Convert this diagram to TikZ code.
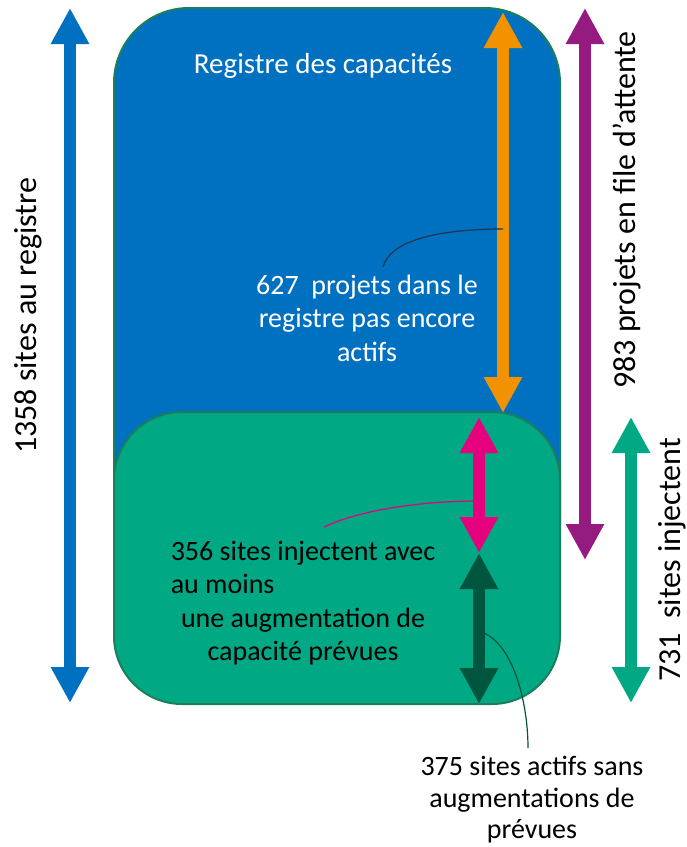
\documentclass[tikz,border=0pt]{standalone}
\usepackage{fontspec}
\usepackage{calc}
\setmainfont{Carlito}
\usetikzlibrary{arrows.meta}
\definecolor{cblue}{HTML}{0070C0}
\definecolor{cgreen}{HTML}{00A884}
\definecolor{cborder}{HTML}{1A7F5A}
\definecolor{corange}{HTML}{F39200}
\definecolor{cpurple}{HTML}{951B81}
\definecolor{cpink}{HTML}{E5007E}
\definecolor{cdark}{HTML}{00553F}
\definecolor{cnavy}{HTML}{1F3550}
\tikzset{
  box/.style={draw=cborder, line width=2pt},
  bigarrow/.style={line width=12pt, {Triangle[width=36pt,length=36pt]}-{Triangle[width=36pt,length=36pt]}},
  lbl/.style={inner sep=0pt, align=center, font=\fontsize{28}{33.5}\selectfont},
  vlbl/.style={inner sep=0pt, rotate=90, font=\fontsize{32}{38}\selectfont},
  thin/.style={line width=1.2pt},
}
\begin{document}
\begin{tikzpicture}[x=1pt,y=-1pt]
\useasboundingbox (0,0) rectangle (687,847);
% boxes
\filldraw[box, fill=cblue, rounded corners=75pt] (114,8) rectangle (560,600);
\filldraw[box, fill=cgreen, rounded corners=68pt] (114,412) rectangle (560,704);
% arrows
\coordinate (b1) at (70,8);   \coordinate (b2) at (70,703);
\coordinate (o1) at (503,12); \coordinate (o2) at (503,413);
\coordinate (p1) at (585,8);  \coordinate (p2) at (585,560);
\coordinate (t1) at (631,417);\coordinate (t2) at (631,703);
\coordinate (k1) at (479,417);\coordinate (k2) at (479,553);
\coordinate (d1) at (479,553);\coordinate (d2) at (479,704);
\draw[bigarrow, cblue] (b1) -- (b2);
\draw[bigarrow, corange] (o1) -- (o2);
\draw[bigarrow, cpurple] (p1) -- (p2);
\draw[bigarrow, cgreen] (t1) -- (t2);
\draw[bigarrow, cpink] (k1) -- (k2);
\draw[bigarrow, cdark] (d1) -- (d2);
% texts
\node[lbl, white, font=\fontsize{29}{34}\selectfont] (title) at (323,66) {Registre des capacités};
\node[lbl, white] (t627) at (367,318) {627\ \ projets dans le\\registre pas encore\\actifs};
\node[lbl, black] (t356) at (303,603) {356 sites injectent avec\\\makebox[\widthof{356 sites injectent avec}][l]{au moins}\\une augmentation de\\capacité prévues};
\node[lbl, black, font=\fontsize{28}{31.5}\selectfont] (t375) at (532,800) {375 sites actifs sans\\augmentations de\\prévues};
\node[vlbl] (v1358) at (28,316) {1358 sites au registre};
\node[vlbl] (v983) at (627,210) {983 projets en file d'attente};
\node[vlbl] (v731) at (672,560) {731\ \ sites injectent};
% connectors
\coordinate (c1) at (503,229);
\coordinate (c2) at (383,267);
\draw[thin, cnavy] (c1) .. controls (440,229) and (390,240) .. (c2);
\coordinate (c3) at (479,501);
\coordinate (c4) at (324,527);
\draw[thin, cpink] (c3) .. controls (420,501) and (360,510) .. (c4);
\coordinate (c5) at (481,632);
\coordinate (c6) at (528,748);
\draw[thin, cdark] (c5) .. controls (512,642) and (528,700) .. (c6);
\end{tikzpicture}
\end{document}
